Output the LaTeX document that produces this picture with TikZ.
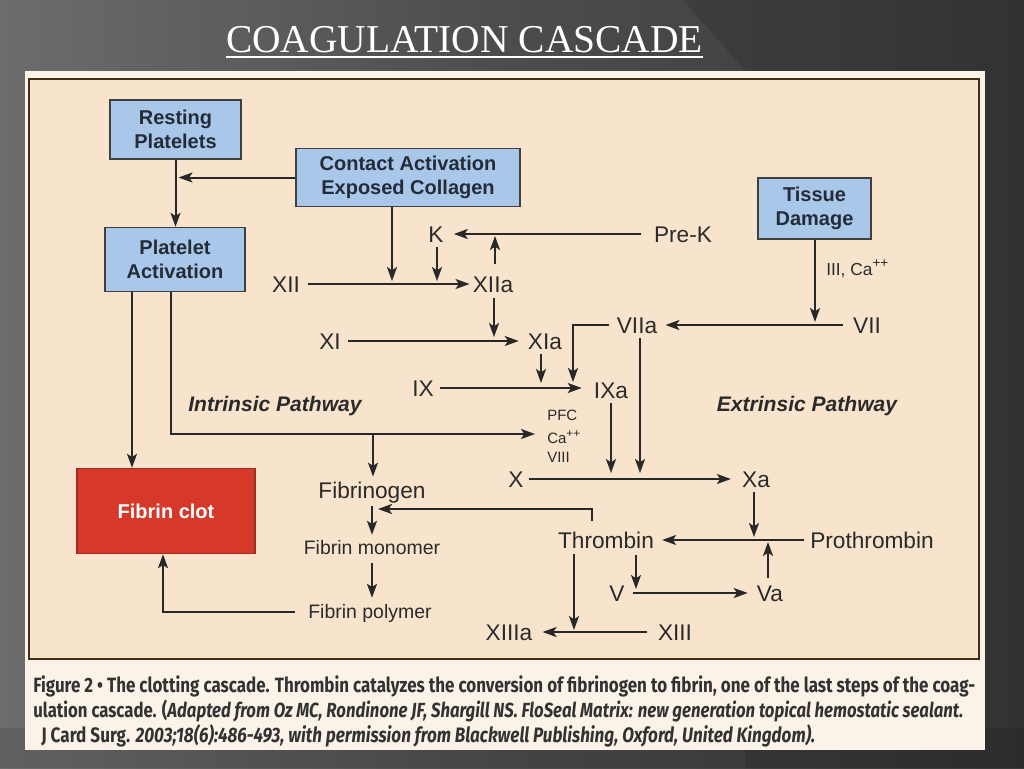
\documentclass[tikz,border=0pt]{standalone}
\usepackage{fontspec}
\usepackage{graphicx}
\setmainfont{Liberation Sans}
\newfontfamily\titlefont{Liberation Serif}
\newfontfamily\capfont{Fira Sans}
\usetikzlibrary{arrows.meta,calc}
\newcommand\pp{\raisebox{0.42em}{\scalebox{0.78}{++}}}
\definecolor{bgL}{RGB}{108,108,108}
\definecolor{bgM}{RGB}{76,76,76}
\definecolor{bgR}{RGB}{58,58,58}
\definecolor{panelc}{RGB}{252,243,232}
\definecolor{innerc}{RGB}{248,228,205}
\definecolor{boxblue}{RGB}{168,199,233}
\definecolor{clotred}{RGB}{214,57,42}
\definecolor{ink}{RGB}{40,40,40}
\definecolor{txt}{RGB}{42,42,42}
\definecolor{boxtxt}{RGB}{36,44,56}
\definecolor{captxt}{RGB}{50,50,50}
\begin{document}
\begin{tikzpicture}[x=0.75pt,y=-0.75pt,
  arr/.style={draw=ink, line width=1.5pt, -{Stealth[length=10.5pt,width=7.5pt,inset=2.5pt]}},
  bluebox/.style={draw=black!75, line width=1.1pt, fill=boxblue, align=center, text=boxtxt,
    font=\fontsize{15}{18}\selectfont\bfseries, inner sep=0pt},
  lbl/.style={inner sep=0pt, text=txt, font=\fontsize{17}{20}\selectfont, text height=12.2pt, text depth=0pt},
  mlbl/.style={inner sep=0pt, text=txt, font=\fontsize{14.6}{17}\selectfont, text height=10.45pt, text depth=0pt},
  slbl/.style={inner sep=0pt, text=txt, font=\fontsize{11.25}{13}\selectfont, text height=8.06pt, text depth=0pt, anchor=west},
  pathlbl/.style={inner sep=0pt, text=txt, font=\fontsize{15.8}{18}\selectfont\bfseries\itshape, text height=11.3pt, text depth=0pt},
  capline/.style={inner sep=0pt, anchor=base west, text=captxt}
]
\useasboundingbox (0,0) rectangle (1024,768);
% background
\shade[left color=bgL, right color=bgR, middle color=bgM] (0,0) rectangle (1024,768);
\fill[black, opacity=0.12] (683,0) -- (1024,0) -- (1024,768) -- (745,768) -- (745,70) -- cycle;
\fill[black, opacity=0.10] (0,728) rectangle (1024,768);
% title
\node[inner sep=0pt, anchor=base, text=white, font=\titlefont\fontsize{29.6}{34}\selectfont] (title) at (464.5,52) {COAGULATION CASCADE};
\draw[white, line width=1.1pt] ([yshift=-3.75pt]title.base west) -- ([yshift=-3.75pt]title.base east);
% panel
\fill[panelc] (25,71) rectangle (985,750);
\filldraw[fill=innerc, draw=black!65!brown, line width=1.1pt] (29,79) rectangle (979,659);

% boxes
\node[bluebox, minimum width=98.25pt, minimum height=44.25pt] (rest) at (175.5,129.5) {Resting\\Platelets};
\node[bluebox, minimum width=168pt, minimum height=43.5pt] (contact) at (408,177.5) {Contact Activation\\Exposed Collagen};
\node[bluebox, minimum width=105pt, minimum height=48pt] (plat) at (175,259.5) {Platelet\\Activation};
\node[bluebox, minimum width=84.75pt, minimum height=45.75pt] (tissue) at (814.5,208.5) {Tissue\\Damage};
\node[draw=clotred!75!black, line width=1.1pt, fill=clotred, text=white, inner sep=0pt,
  font=\fontsize{15}{18}\selectfont\bfseries, minimum width=133.5pt, minimum height=63.75pt] (clot) at (166,511) {Fibrin clot};

% labels
\node[lbl] (K) at (436,234) {K};
\node[lbl] (PreK) at (683,234) {Pre-K};
\node[lbl] (XII) at (286,284) {XII};
\node[lbl] (XIIa) at (493,284) {XIIa};
\node[slbl, font=\fontsize{13}{15}\selectfont, text height=9.3pt] (IIICa) at (826,269) {III, Ca\pp};
\node[lbl] (VII) at (867,325) {VII};
\node[lbl] (VIIa) at (637,325) {VIIa};
\node[lbl] (XI) at (330,341) {XI};
\node[lbl] (XIa) at (545,341) {XIa};
\node[lbl] (IX) at (423,388) {IX};
\node[lbl] (IXa) at (611,390) {IXa};
\node[slbl] (PFC) at (547,415) {PFC};
\node[slbl] (Ca) at (547,438) {Ca\pp};
\node[slbl] (VIII) at (547,457) {VIII};
\node[lbl] (X) at (516,479) {X};
\node[lbl] (Xa) at (756,479) {Xa};
\node[lbl] (Fgen) at (372,490) {Fibrinogen};
\node[mlbl] (Fmono) at (372,548) {Fibrin monomer};
\node[mlbl] (Fpoly) at (370,612) {Fibrin polymer};
\node[lbl] (Thr) at (606,540) {Thrombin};
\node[lbl] (Pro) at (872,540) {Prothrombin};
\node[lbl] (V) at (617,593) {V};
\node[lbl] (Va) at (770,593) {Va};
\node[lbl] (XIIIa) at (509,632) {XIIIa};
\node[lbl] (XIII) at (675,632) {XIII};
\node[pathlbl] (intr) at (275,404) {Intrinsic Pathway};
\node[pathlbl] (extr) at (807,404) {Extrinsic Pathway};

% junction coordinates
\coordinate (jXII) at (392,283);
\coordinate (jK) at (437,283);
\coordinate (jPK) at (495,233);
\coordinate (jXI) at (494,340);
\coordinate (jIXa) at (541,388);
\coordinate (jIXb) at (573,388);
\coordinate (jVII) at (815,324);
\coordinate (jXb) at (640,478);
\coordinate (jXa) at (611,478);
\coordinate (jCa) at (535,434);
\coordinate (jF) at (373,434);
\coordinate (jFm) at (378,509);
\coordinate (jP) at (754,539);
\coordinate (jP2) at (768,539);
\coordinate (jV) at (636,592);
\coordinate (jXIII) at (574,632);

% connectors
\draw[arr] (rest.south) -- (rest.south |- plat.north);
\draw[arr, shorten >=2.25pt] (contact.west) -- (contact.west -| rest.south);
\draw[arr, shorten >=1.5pt] (contact.south -| jXII) -- (jXII);
\draw[arr, shorten <=6pt, shorten >=2.25pt] (XII.east) -- (XII.east -| XIIa.west);
\draw[arr, shorten <=3.75pt, shorten >=1.5pt] (K.south -| jK) -- (jK);
\draw[arr, shorten <=9.75pt, shorten >=7.5pt] (PreK.west) -- (PreK.west -| K.east);
\draw[arr, shorten <=9pt, shorten >=2.25pt] (XIIa.north -| jPK) -- (jPK);
\draw[arr, shorten <=4.5pt, shorten >=2.25pt] (XIIa.south -| jXI) -- (jXI);
\draw[arr, shorten <=5.25pt, shorten >=6.75pt] (XI.east) -- (XI.east -| XIa.west);
\draw[arr, shorten <=3.75pt, shorten >=3.75pt] (XIa.south -| jIXa) -- (jIXa);
\draw[arr, shorten <=6pt, shorten >=4.5pt] (VIIa.west) -| (jIXb);
\draw[arr, shorten <=4.5pt, shorten >=9pt] (IX.east) -- (IX.east -| IXa.west);
\draw[arr, shorten >=1.5pt] (tissue.south -| jVII) -- (jVII);
\draw[arr, shorten <=7.5pt, shorten >=6pt] (VII.west) -- (VII.west -| VIIa.east);
\draw[arr, shorten <=3.75pt, shorten >=3.75pt] (VIIa.south -| jXb) -- (jXb);
\draw[arr, shorten <=3.75pt, shorten >=3.75pt] (IXa.south -| jXa) -- (jXa);
\draw[arr, shorten <=3.75pt, shorten >=8.25pt] (X.east) -- (X.east -| Xa.west);
\draw[arr] ([xshift=-32.25pt]plat.south) -- ([xshift=-32.25pt]plat.south |- clot.north);
\draw[arr] ([xshift=-3pt]plat.south) |- (jCa);
\draw[arr, shorten >=3.75pt] (jF) -- (jF |- Fgen.north);
\draw[arr, shorten <=6pt, shorten >=4.5pt] (Fgen.south) -- (Fgen.south |- Fmono.north);
\draw[arr, shorten <=8.25pt] ([xshift=-10.5pt]Thr.north) |- (jFm);
\draw[arr, shorten <=6pt, shorten >=5.25pt] (Fmono.south) -- (Fmono.south |- Fpoly.north);
\draw[arr, shorten <=9.75pt] (Fpoly.west) -| ([xshift=-2.25pt]clot.south);
\draw[arr, shorten <=3.75pt, shorten >=1.5pt] (Xa.south -| jP) -- (jP);
\draw[arr, shorten <=4.5pt, shorten >=6pt] (Pro.west) -- (Pro.west -| Thr.east);
\draw[arr, shorten <=5.25pt, shorten >=2.25pt] (Va.north -| jP2) -- (jP2);
\draw[arr, shorten <=5.25pt, shorten >=2.25pt] (Thr.south -| jV) -- (jV);
\draw[arr, shorten <=6pt, shorten >=6.75pt] (V.east) -- (V.east -| Va.west);
\draw[arr, shorten <=4.5pt, shorten >=1.5pt] (Thr.south -| jXIII) -- (jXIII);
\draw[arr, shorten <=8.25pt, shorten >=7.5pt] (XIII.west) -- (XIII.west -| XIIIa.east);

% caption
\node[capline] (cap1) at (33,692) {\resizebox{706.5pt}{!}{\scalebox{1}[1.22]{\capfont\bfseries Figure 2 • The clotting cascade. Thrombin catalyzes the conversion of fibrinogen to fibrin, one of the last steps of the coag-}}};
\node[capline] (cap2) at (33,717) {\resizebox{697.5pt}{!}{\scalebox{1}[1.22]{\capfont\bfseries ulation cascade. (\itshape Adapted from Oz MC, Rondinone JF, Shargill NS. FloSeal Matrix: new generation topical hemostatic sealant.}}};
\node[capline] (cap3) at (41,742) {\resizebox{580.5pt}{!}{\scalebox{1}[1.22]{\capfont\bfseries J Card Surg. \itshape 2003;18(6):486-493, with permission from Blackwell Publishing, Oxford, United Kingdom).}}};
\end{tikzpicture}
\end{document}
